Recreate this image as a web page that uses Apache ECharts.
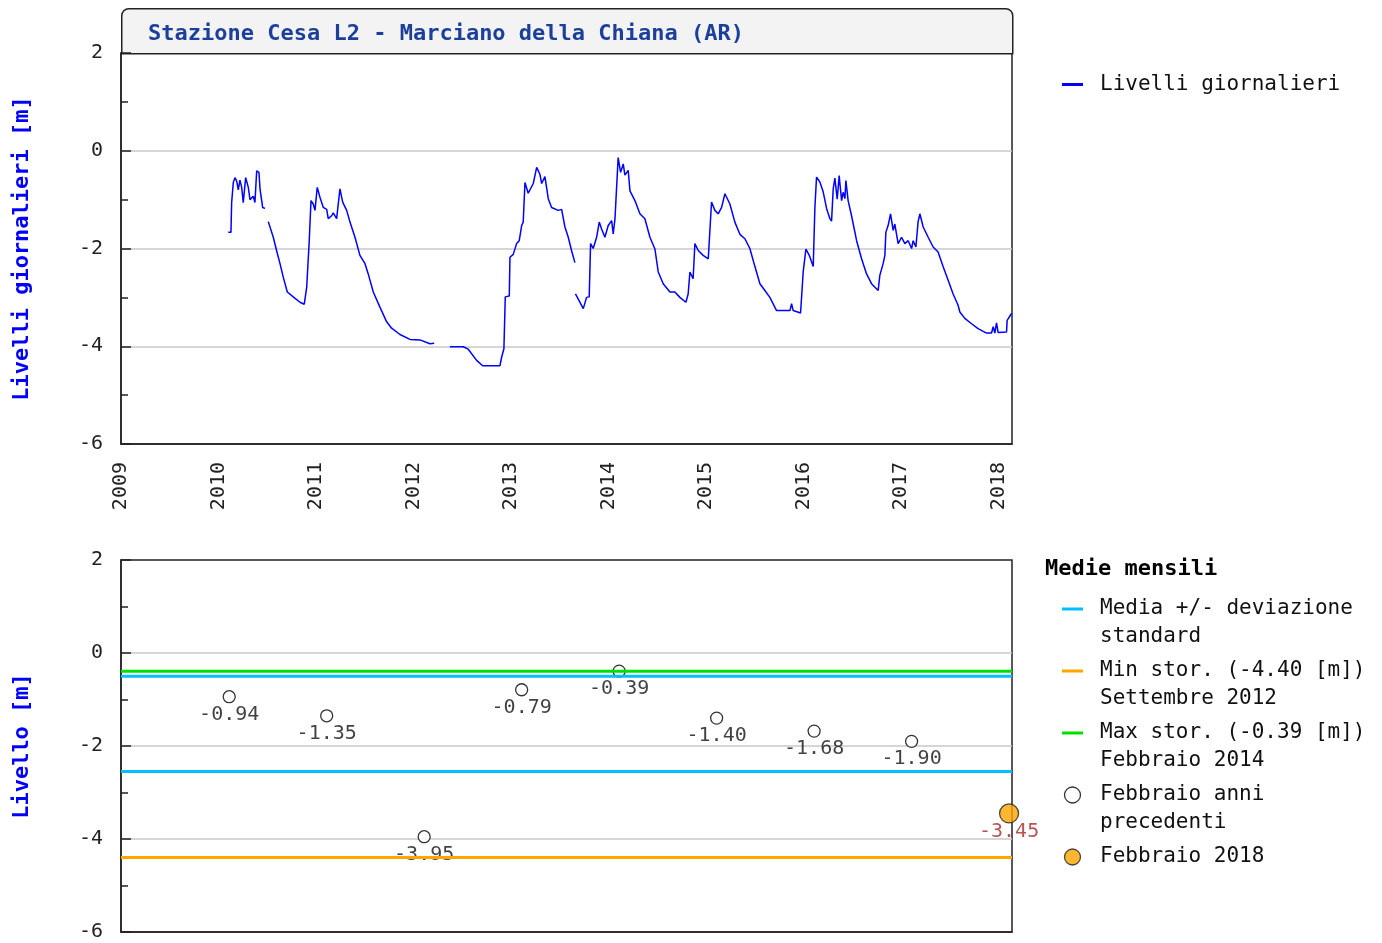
<!DOCTYPE html>
<html>
<head>
<meta charset="utf-8">
<title>Stazione Cesa L2 - Marciano della Chiana (AR)</title>
<script src="https://cdn.jsdelivr.net/npm/echarts@6/dist/echarts.min.js"></script>
<style>
  html, body { margin: 0; padding: 0; background: #fff; }
  #chart { width: 1382px; height: 943px; }
</style>
</head>
<body>
<div id="chart"></div>
<script>
// tempo in anni decimali, livello in metri (null = dato mancante)
const dailyTime = [
  2010.100, 2010.128, 2010.135, 2010.152, 2010.169, 2010.187, 2010.203, 2010.220, 2010.238, 2010.254,
  2010.279, 2010.306, 2010.323, 2010.357, 2010.374, 2010.392, 2010.415, 2010.426, 2010.453, 2010.477,
  2010.494,
  2010.511, 2010.562, 2010.597, 2010.631, 2010.665, 2010.706, 2010.767, 2010.836, 2010.880, 2010.905,
  2010.931, 2010.949, 2010.972, 2010.990, 2011.007, 2011.013, 2011.041, 2011.075, 2011.110, 2011.126,
  2011.161, 2011.177, 2011.212, 2011.229, 2011.246, 2011.274, 2011.315, 2011.349, 2011.400, 2011.451,
  2011.503, 2011.536, 2011.588, 2011.656, 2011.725, 2011.776, 2011.862, 2011.964, 2012.067, 2012.169,
  2012.213,
  2012.300,
  2012.374, 2012.511, 2012.562, 2012.648, 2012.710, 2012.887, 2012.905, 2012.928, 2012.942, 2012.983,
  2012.990, 2013.024, 2013.058, 2013.085, 2013.110, 2013.126, 2013.144, 2013.177, 2013.229, 2013.264,
  2013.297, 2013.315, 2013.349, 2013.383, 2013.417, 2013.485, 2013.520, 2013.554, 2013.588, 2013.623,
  2013.656,
  2013.659,
  2013.662, 2013.700, 2013.742, 2013.776, 2013.803, 2013.817, 2013.844, 2013.879, 2013.906, 2013.930,
  2013.964, 2013.998, 2014.033, 2014.049, 2014.067, 2014.077, 2014.100, 2014.125, 2014.152, 2014.169,
  2014.203, 2014.221, 2014.272, 2014.323, 2014.374, 2014.426, 2014.477, 2014.511, 2014.562, 2014.631,
  2014.682, 2014.733, 2014.795, 2014.818, 2014.836, 2014.869, 2014.887, 2014.921, 2014.972, 2015.024,
  2015.058, 2015.092, 2015.126, 2015.161, 2015.195, 2015.246, 2015.297, 2015.349, 2015.400, 2015.451,
  2015.503, 2015.554, 2015.605, 2015.656, 2015.725, 2015.862, 2015.879, 2015.895, 2015.971, 2015.998,
  2016.026, 2016.060, 2016.101, 2016.118, 2016.135, 2016.169, 2016.203, 2016.238, 2016.272, 2016.289,
  2016.306, 2016.323, 2016.347, 2016.367, 2016.392, 2016.408, 2016.426, 2016.436, 2016.459, 2016.494,
  2016.546, 2016.597, 2016.648, 2016.699, 2016.767, 2016.784, 2016.818, 2016.836, 2016.846, 2016.869,
  2016.894, 2016.921, 2016.938, 2016.972, 2017.007, 2017.041, 2017.075, 2017.110, 2017.126, 2017.154,
  2017.177, 2017.195, 2017.229, 2017.280, 2017.331, 2017.382, 2017.433, 2017.485, 2017.536, 2017.587,
  2017.605, 2017.656, 2017.725, 2017.792, 2017.879, 2017.930, 2017.947, 2017.964, 2017.981, 2017.998,
  2018.084, 2018.090, 2018.135
];
const dailyLevel = [
  -1.67, -1.67, -1.06, -0.65, -0.55, -0.62, -0.80, -0.60, -0.75, -1.06,
  -0.55, -0.75, -1.00, -0.93, -1.06, -0.41, -0.44, -0.78, -1.16, -1.18,
  null,
  -1.45, -1.77, -2.05, -2.31, -2.59, -2.89, -2.99, -3.10, -3.14, -2.79,
  -1.84, -1.02, -1.09, -1.22, -1.25, -0.75, -0.95, -1.16, -1.20, -1.39,
  -1.33, -1.27, -1.39, -1.43, -0.78, -1.05, -1.22, -1.46, -1.77, -2.14,
  -2.31, -2.52, -2.89, -3.20, -3.50, -3.63, -3.76, -3.86, -3.87, -3.95,
  -3.94,
  null,
  -4.01, -4.01, -4.06, -4.29, -4.40, -4.40, -4.22, -4.05, -2.99, -2.97,
  -2.18, -2.12, -1.90, -1.84, -1.53, -1.46, -0.65, -0.87, -0.67, -0.34,
  -0.48, -0.67, -0.53, -0.98, -1.16, -1.22, -1.20, -1.56, -1.77, -2.05,
  -2.29,
  null,
  -2.93, -3.07, -3.23, -3.00, -2.99, -1.90, -2.00, -1.77, -1.46, -1.60,
  -1.77, -1.53, -1.43, -1.70, -1.40, -1.02, -0.14, -0.44, -0.27, -0.50,
  -0.40, -0.82, -1.02, -1.29, -1.39, -1.77, -2.01, -2.48, -2.72, -2.89,
  -2.89, -3.00, -3.10, -2.93, -2.48, -2.62, -1.90, -2.04, -2.14, -2.21,
  -1.05, -1.22, -1.29, -1.16, -0.88, -1.09, -1.46, -1.71, -1.80, -2.00,
  -2.37, -2.72, -2.86, -3.00, -3.27, -3.27, -3.13, -3.27, -3.32, -2.48,
  -2.01, -2.14, -2.37, -1.16, -0.54, -0.64, -0.84, -1.18, -1.39, -1.44,
  -0.78, -0.56, -0.99, -0.51, -1.02, -0.85, -0.98, -0.61, -1.02, -1.33,
  -1.84, -2.21, -2.52, -2.72, -2.86, -2.55, -2.31, -2.14, -1.67, -1.53,
  -1.29, -1.63, -1.50, -1.90, -1.77, -1.90, -1.84, -2.00, -1.84, -1.97,
  -1.45, -1.29, -1.56, -1.77, -1.97, -2.07, -2.37, -2.65, -2.93, -3.16,
  -3.30, -3.43, -3.54, -3.64, -3.73, -3.73, -3.60, -3.73, -3.52, -3.72,
  -3.71, -3.47, -3.33
];

// medie mensili di febbraio
const febYears = [2010, 2011, 2012, 2013, 2014, 2015, 2016, 2017];
const febLevels = [-0.94, -1.35, -3.95, -0.79, -0.39, -1.40, -1.68, -1.90];
const currentYear = 2018;
const currentLevel = -3.45;
const meanPlusSd = -0.50;
const meanMinusSd = -2.55;
const minStor = -4.40;
const minStorWhen = 'Settembre 2012';
const maxStor = -0.39;
const maxStorWhen = 'Febbraio 2014';

const X_MIN = 2009;
const X_MAX = 2018.14;
const FEB = 0.11; // meta' febbraio in anni decimali

const MONO = "'DejaVu Sans Mono', 'Liberation Mono', monospace";
const BAR = 'path://M0,0H21V3H0Z';

const nameDaily = 'Livelli giornalieri';
const nameMedia = 'Media +/- deviazione standard';
const nameMin = 'Min stor. (' + minStor.toFixed(2) + ' [m]) ' + minStorWhen;
const nameMax = 'Max stor. (' + maxStor.toFixed(2) + ' [m]) ' + maxStorWhen;
const namePrev = 'Febbraio anni precedenti';
const nameCur = 'Febbraio ' + currentYear;

const legendLines = {};
legendLines[nameMedia] = ['Media +/- deviazione', 'standard'];
legendLines[nameMin] = ['Min stor. (' + minStor.toFixed(2) + ' [m])', minStorWhen];
legendLines[nameMax] = ['Max stor. (' + maxStor.toFixed(2) + ' [m])', maxStorWhen];
legendLines[namePrev] = ['Febbraio anni', 'precedenti'];
legendLines[nameCur] = [nameCur, ' '];

const chart = echarts.init(document.getElementById('chart'));

function yAxisFor(grid, name) {
  return {
    gridIndex: grid,
    type: 'value',
    min: -6,
    max: 2,
    interval: 2,
    name: name,
    nameLocation: 'middle',
    nameGap: 88,
    nameTextStyle: { color: '#0000ff', fontFamily: MONO, fontWeight: 'bold', fontSize: 22 },
    axisLine: { show: true, onZero: false, lineStyle: { color: '#222', width: 1.5 } },
    axisTick: { show: true, inside: true, length: 10, lineStyle: { color: '#222', width: 1.5 } },
    minorTick: { show: true, splitNumber: 2, length: 7, lineStyle: { color: '#222', width: 1.5 } },
    axisLabel: { fontFamily: MONO, fontSize: 20, color: '#222', margin: 18 },
    splitLine: { show: true, showMinLine: false, showMaxLine: false, lineStyle: { color: '#c8c8c8', width: 1.5 } },
  };
}

function flatLine(name, value, color) {
  return {
    name: name,
    type: 'line',
    xAxisIndex: 1,
    yAxisIndex: 1,
    data: [[X_MIN, value], [X_MAX, value]],
    symbol: 'none',
    color: color,
    lineStyle: { color: color, width: 3 },
    silent: true,
  };
}

chart.setOption({
  animation: false,
  backgroundColor: '#fff',
  graphic: [{
    type: 'rect',
    left: 121,
    top: 8,
    shape: { width: 891, height: 45, r: [7, 7, 0, 0] },
    style: { fill: '#f3f3f3', stroke: '#222', lineWidth: 1.5 },
    silent: true,
    z: 0,
  }],
  title: [
    {
      text: 'Stazione Cesa L2 - Marciano della Chiana (AR)',
      left: 143,
      top: 18,
      textStyle: { color: '#1b3f9a', fontFamily: MONO, fontWeight: 'bold', fontSize: 22 },
    },
    {
      text: 'Medie mensili',
      left: 1040,
      top: 553,
      textStyle: { color: '#000', fontFamily: MONO, fontWeight: 'bold', fontSize: 22 },
    },
  ],
  legend: [
    {
      orient: 'vertical',
      left: 1057,
      top: 69,
      itemWidth: 21,
      itemHeight: 16,
      selectedMode: false,
      data: [{ name: nameDaily, icon: BAR, itemStyle: { color: '#0000ff' } }],
      textStyle: { fontFamily: MONO, fontSize: 21, color: '#111', padding: [0, 0, 0, 12] },
    },
    {
      orient: 'vertical',
      left: 1057,
      top: 562,
      itemWidth: 21,
      itemHeight: 16,
      itemGap: -22,
      selectedMode: false,
      data: [
        { name: nameMedia, icon: BAR, itemStyle: { color: '#00bfff' } },
        { name: nameMin, icon: BAR, itemStyle: { color: '#ffa500' } },
        { name: nameMax, icon: BAR, itemStyle: { color: '#00e000' } },
        { name: namePrev, icon: 'circle', itemStyle: { color: '#fff', borderColor: '#000', borderWidth: 1.3 } },
        { name: nameCur, icon: 'circle', itemStyle: { color: '#ffa500', borderColor: '#222', borderWidth: 1.3 } },
      ],
      formatter: function (name) {
        const l = legendLines[name];
        return '\n' + l[0] + '\n' + l[1];
      },
      textStyle: { fontFamily: MONO, fontSize: 21, lineHeight: 28, color: '#111', padding: [0, 0, 0, 12] },
    },
  ],
  grid: [
    { left: 121, top: 53, width: 891, height: 391, show: true, borderColor: '#222', borderWidth: 1.5 },
    { left: 121, top: 560, width: 891, height: 372, show: true, borderColor: '#222', borderWidth: 1.5 },
  ],
  xAxis: [
    {
      gridIndex: 0,
      type: 'value',
      min: X_MIN,
      max: X_MAX,
      interval: 1,
      axisLine: { show: true, onZero: false, lineStyle: { color: '#222', width: 1.5 } },
      axisTick: { show: false },
      splitLine: { show: false },
      axisLabel: {
        rotate: 90,
        margin: 18,
        fontFamily: MONO,
        fontSize: 20,
        color: '#222',
        formatter: function (v) {
          return Math.abs(v - Math.round(v)) < 1e-6 ? String(Math.round(v)) : '';
        },
      },
    },
    {
      gridIndex: 1,
      type: 'value',
      min: X_MIN,
      max: X_MAX,
      interval: 1,
      axisLine: { show: true, onZero: false, lineStyle: { color: '#222', width: 1.5 } },
      axisTick: { show: false },
      axisLabel: { show: false },
      splitLine: { show: false },
    },
  ],
  yAxis: [
    yAxisFor(0, 'Livelli giornalieri [m]'),
    yAxisFor(1, 'Livello [m]'),
  ],
  series: [
    {
      name: nameDaily,
      type: 'line',
      xAxisIndex: 0,
      yAxisIndex: 0,
      data: dailyTime.map((t, i) => [t, dailyLevel[i]]),
      symbol: 'none',
      connectNulls: false,
      color: '#0000ff',
      lineStyle: { color: '#0000ff', width: 1.5 },
    },
    flatLine(nameMedia, meanPlusSd, '#00bfff'),
    flatLine(nameMedia, meanMinusSd, '#00bfff'),
    flatLine(nameMin, minStor, '#ffa500'),
    flatLine(nameMax, maxStor, '#00e000'),
    {
      name: namePrev,
      type: 'scatter',
      xAxisIndex: 1,
      yAxisIndex: 1,
      data: febYears.map((y, i) => [y + FEB, febLevels[i]]),
      symbol: 'circle',
      symbolSize: 12,
      itemStyle: { color: '#fff', borderColor: '#000', borderWidth: 1.3 },
      label: {
        show: true,
        position: 'bottom',
        distance: 1,
        fontFamily: MONO,
        fontSize: 20,
        color: '#111',
        formatter: (p) => p.value[1].toFixed(2),
      },
    },
    {
      name: nameCur,
      type: 'scatter',
      xAxisIndex: 1,
      yAxisIndex: 1,
      data: [[currentYear + FEB, currentLevel]],
      symbol: 'circle',
      symbolSize: 19,
      itemStyle: { color: '#ffa500', borderColor: '#222', borderWidth: 1.3 },
      label: {
        show: true,
        position: 'bottom',
        distance: -2,
        fontFamily: MONO,
        fontSize: 20,
        color: '#a52a2a',
        formatter: (p) => p.value[1].toFixed(2),
      },
    },
  ],
});
</script>
</body>
</html>
